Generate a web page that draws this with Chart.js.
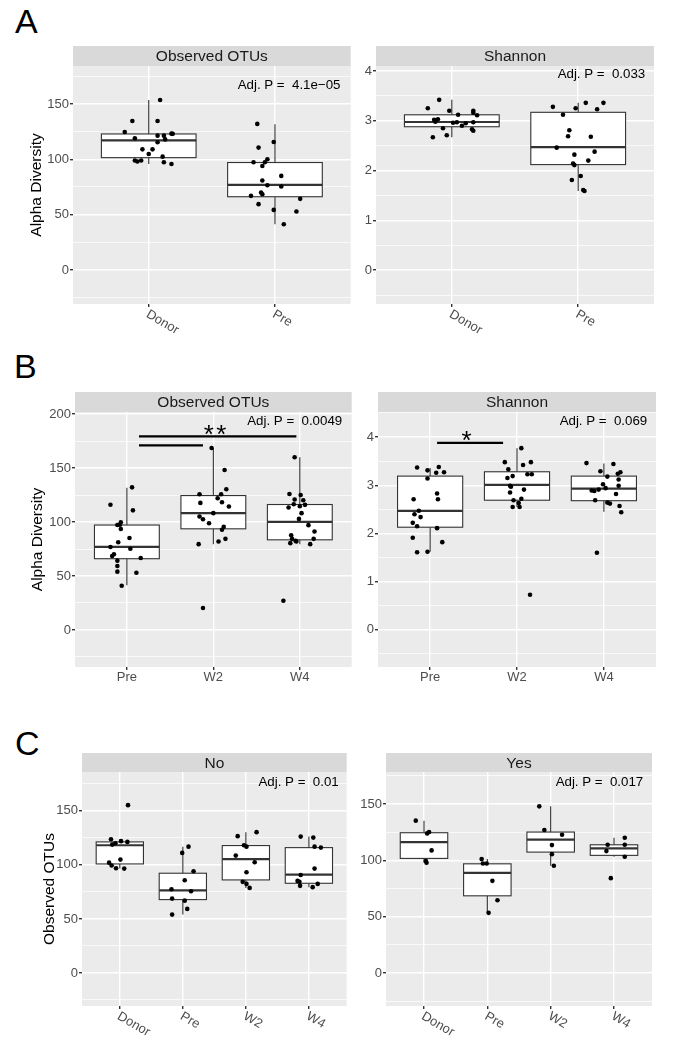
<!DOCTYPE html>
<html><head><meta charset="utf-8">
<script src="https://cdn.jsdelivr.net/npm/chart.js@4.4.0/dist/chart.umd.min.js"></script>
<style>
html,body{margin:0;padding:0;background:#fff;width:679px;height:1050px;overflow:hidden;font-family:"Liberation Sans",Arial,sans-serif;}
.letter{position:absolute;font-size:34px;color:#000;line-height:1;}
canvas{position:absolute;}
</style></head><body>
<div class="letter" style="left:15px;top:3.5px">A</div>
<div class="letter" style="left:14px;top:348.5px">B</div>
<div class="letter" style="left:15px;top:726px">C</div>
<script>
// ---------- Panel A : Donor vs Pre ----------
const A_cats = ['Donor', 'Pre'];
const A1_donor  = [153.6, 134.6, 134.6, 124.7, 123.2, 123.0, 119.0, 121.4, 121.4, 118.0, 115.4, 109.0, 109.0, 104.8, 102.4, 99.0, 98.0, 99.0, 97.3, 95.8];
const A1_donorX = [1.09, 0.87, 1.07, 0.81, 1.18, 1.19, 0.89, 1.07, 1.12, 1.13, 1.07, 0.95, 1.03, 1.00, 1.11, 0.89, 0.91, 0.94, 1.12, 1.18];
const A1_pre    = [132, 115.7, 110.6, 100.1, 97.4, 97.4, 94, 85, 80.8, 76.6, 75.4, 70, 68.5, 67, 64.3, 59.5, 54.3, 52.8, 41.4];
const A1_preX   = [1.86, 1.99, 1.87, 1.94, 1.92, 1.83, 1.90, 2.05, 1.90, 1.94, 2.05, 1.89, 1.90, 1.81, 2.20, 1.87, 1.99, 2.17, 2.07];
// box stats: [lower whisker, Q1, median, Q3, upper whisker]
const A1_stats  = [[95.8, 101.5, 117.2, 122.9, 153.6], [41.4, 66.2, 77.0, 97.1, 131.7]];

const A2_donor  = [3.42, 3.25, 3.20, 3.20, 3.16, 3.11, 3.12, 3.02, 3.03, 2.98, 2.97, 2.96, 2.95, 2.97, 2.90, 2.85, 2.83, 2.80, 2.71, 2.67];
const A2_donorX = [0.90, 0.81, 0.98, 1.17, 1.17, 1.20, 1.05, 0.86, 0.89, 0.87, 1.04, 1.01, 1.11, 1.17, 1.08, 0.93, 1.16, 1.17, 0.96, 0.85];
const A2_pre    = [3.28, 3.25, 3.36, 3.36, 3.23, 3.12, 2.81, 2.69, 2.68, 2.46, 2.38, 2.32, 2.20, 2.14, 2.11, 1.89, 1.81, 1.61, 1.59];
const A2_preX   = [1.80, 1.98, 2.06, 2.20, 2.15, 1.88, 1.93, 1.92, 2.10, 1.83, 2.13, 1.97, 2.08, 1.96, 1.97, 2.02, 1.95, 2.04, 2.05];
const A2_stats  = [[2.67, 2.88, 2.975, 3.12, 3.42], [1.59, 2.12, 2.47, 3.17, 3.36]];

// ---------- Panel B : Pre / W2 / W4 ----------
const B_cats = ['Pre', 'W2', 'W4'];
const B1_pre   = [132.1, 116, 110.8, 97.2, 99.7, 93.5, 85.2, 81.2, 76.8, 75.3, 70.1, 68.5, 66.7, 64.2, 59.3, 54, 53, 41, 97.4];
const B1_preX  = [1.06, 0.81, 1.07, 0.89, 0.93, 0.93, 1.03, 0.90, 0.81, 1.04, 0.85, 0.83, 1.16, 0.89, 0.89, 0.89, 1.11, 0.94, 0.92];
const B1_w2    = [168.6, 148.2, 130.4, 125.7, 125.7, 122, 118.3, 117.7, 114.3, 105.1, 102.6, 108.2, 98.9, 95.5, 92.8, 79.5, 82, 84.4, 20.3];
const B1_w2X   = [1.98, 2.13, 2.15, 1.84, 2.09, 2.05, 2.10, 1.85, 2.18, 1.84, 1.88, 2.00, 1.95, 2.12, 2.10, 1.83, 2.06, 2.14, 1.88];
const B1_w4    = [160, 126, 125, 120.8, 120.2, 116.5, 115.9, 114.6, 113.4, 108.2, 102.9, 97.1, 87.8, 91.2, 84.4, 84.4, 82.6, 82, 80.4, 79.5, 27.1];
const B1_w4X   = [2.94, 2.88, 3.01, 2.94, 3.04, 2.93, 3.06, 3.00, 2.87, 3.02, 2.99, 3.10, 2.90, 3.17, 2.91, 3.16, 2.95, 2.96, 2.89, 3.12, 2.81];
const B1_stats = [[41.4, 66, 77, 97.2, 131.7], [79.5, 93.7, 108.2, 124.5, 168.6], [79.5, 83.5, 100.2, 116.2, 160]];
const B1_sigX0 = [1.14, 1.14];
const B1_sigX1 = [2.96, 1.88];
const B1_sigY  = [179.4, 171.0];
const B1_star  = ['**', 2.02, 186.8];

const B2_pre   = [3.37, 3.31, 3.38, 3.26, 3.27, 3.14, 2.83, 2.71, 2.71, 2.47, 2.40, 2.34, 2.22, 2.15, 2.11, 1.91, 1.82, 1.61, 1.62];
const B2_preX  = [0.85, 0.97, 1.10, 1.07, 1.16, 0.97, 1.08, 1.09, 0.81, 0.87, 0.82, 0.89, 0.80, 0.85, 1.08, 0.80, 1.14, 0.85, 0.97];
const B2_w2    = [3.77, 3.48, 3.48, 3.33, 3.42, 3.19, 3.15, 3.23, 3.23, 2.99, 2.97, 2.91, 2.85, 2.72, 2.69, 2.63, 2.55, 2.55, 0.73];
const B2_w2X   = [2.05, 1.86, 2.16, 1.90, 2.07, 1.95, 1.89, 2.12, 2.17, 1.92, 1.93, 2.08, 1.92, 2.05, 1.96, 2.02, 1.95, 2.03, 2.15];
const B2_w4    = [3.46, 3.44, 3.29, 3.27, 3.24, 3.18, 3.12, 3.02, 2.94, 2.89, 2.88, 2.91, 2.99, 2.82, 2.69, 2.64, 2.62, 2.57, 2.44, 1.60];
const B2_w4X   = [2.80, 3.11, 2.96, 3.19, 3.16, 3.04, 3.17, 2.99, 3.02, 2.86, 2.89, 2.94, 3.17, 3.14, 2.90, 3.04, 3.07, 3.18, 3.20, 2.92];
const B2_stats = [[1.62, 2.13, 2.47, 3.19, 3.36], [2.55, 2.69, 3.01, 3.28, 3.77], [2.45, 2.68, 2.93, 3.19, 3.45]];
const B2_sigX0 = [1.08];
const B2_sigX1 = [1.84];
const B2_sigY  = [3.88];
const B2_star  = ['*', 1.42, 4.05];

// ---------- Panel C : No / Yes ----------
const C_cats = ['Donor', 'Pre', 'W2', 'W4'];
const C1_donor  = [155.3, 123.8, 120.1, 118.8, 122, 121.3, 104.9, 102.1, 99.4, 96.9, 96.6];
const C1_donorX = [1.13, 0.86, 0.93, 0.88, 1.02, 1.12, 1.01, 0.83, 0.87, 0.94, 1.07];
const C1_pre    = [116.9, 111.1, 94.1, 85.8, 77.5, 75.6, 68.8, 66.9, 59.3, 54];
const C1_preX   = [2.09, 1.99, 2.17, 2.03, 1.82, 2.13, 1.83, 2.03, 2.07, 1.83];
const C1_w2     = [126.6, 130.3, 118.2, 116.9, 108.6, 102.5, 93.2, 84.3, 82.4, 78.7];
const C1_w2X    = [2.87, 3.17, 2.97, 3.01, 2.84, 3.14, 3.01, 2.95, 3.01, 3.06];
const C1_w4     = [126.2, 125.3, 116.9, 116, 96.6, 90.7, 85.2, 84.3, 80.6, 79.4, 82.4];
const C1_w4X    = [3.87, 4.07, 4.09, 4.19, 4.09, 3.87, 3.82, 3.85, 3.86, 4.06, 4.14];
const C1_stats  = [[96.6, 100.9, 118.2, 121.3, 123.8], [54, 67.9, 76.5, 92.3, 116.9], [78.7, 86.1, 105.3, 117.9, 130.3], [79.4, 83, 91, 116, 126.2]];

const C2_donor  = [135.2, 123.9, 125.1, 108.8, 99.3, 97.8];
const C2_donorX = [0.87, 1.05, 1.08, 1.12, 1.03, 1.04];
const C2_pre    = [101.1, 97.2, 97.2, 81.8, 64.6, 53.4];
const C2_preX   = [1.91, 1.93, 1.99, 2.08, 2.16, 2.02];
const C2_w2     = [147.9, 126.9, 122.7, 113.5, 105.5, 95.2];
const C2_w2X    = [2.82, 2.90, 3.18, 3.02, 3.02, 3.05];
const C2_w4     = [120.1, 113.8, 113.8, 108.2, 103.2, 84.2];
const C2_w4X    = [4.17, 3.90, 4.17, 3.88, 4.17, 3.95];
const C2_stats  = [[97.8, 101.7, 116.2, 124.5, 135.2], [53.4, 68.5, 88.9, 96.9, 101.1], [95.2, 107.3, 118.3, 125.1, 147.9], [103.2, 104.4, 110.6, 113.8, 120.1]];

// ---------- axis ticks ----------
const otuTicks    = [-25, 0, 25, 50, 75, 100, 125, 150, 175];
const otuMajor    = [0, 50, 100, 150];
const otuTicksB   = [-25, 0, 25, 50, 75, 100, 125, 150, 175, 200];
const otuMajorB   = [0, 50, 100, 150, 200];
const shanTicks   = [-0.5, 0, 0.5, 1, 1.5, 2, 2.5, 3, 3.5, 4];
const shanTicksB  = [-0.5, 0, 0.5, 1, 1.5, 2, 2.5, 3, 3.5, 4, 4.5];
const shanMajor   = [0, 1, 2, 3, 4];

const FONT = '"Liberation Sans", Arial, Helvetica, sans-serif';
Chart.defaults.font.family = FONT;

function makePanel(p) {
  const cv = document.createElement('canvas');
  const W = p.canvasRight - p.canvasLeft, H = p.canvasBottom - p.stripTop;
  cv.width = W; cv.height = H;
  cv.style.left = p.canvasLeft + 'px'; cv.style.top = p.stripTop + 'px';
  cv.style.width = W + 'px'; cv.style.height = H + 'px';
  document.body.appendChild(cv);
  const isMajor = v => p.yMajor.some(m => Math.abs(m - v) < 1e-9);
  const datasets = p.groups.map(g => ({
    type: 'scatter',
    data: g[0].map((y, i) => ({x: g[1][i], y: y})),
    pointRadius: 2.3, pointHoverRadius: 2.3,
    pointBackgroundColor: '#000', pointBorderWidth: 0, showLine: false
  }));
  const plugin = {
    id: 'panel' + p.id,
    beforeDraw(chart) {
      const {ctx, chartArea: a} = chart;
      ctx.save();
      ctx.fillStyle = '#EBEBEB';
      ctx.fillRect(a.left, a.top, a.right - a.left, a.bottom - a.top);
      ctx.fillStyle = '#D9D9D9';
      ctx.fillRect(a.left, 0, a.right - a.left, a.top);
      ctx.fillStyle = '#1A1A1A';
      ctx.font = '15.5px ' + FONT;
      ctx.textAlign = 'center'; ctx.textBaseline = 'middle';
      ctx.fillText(p.strip, (a.left + a.right) / 2, a.top / 2 + 1);
      ctx.restore();
    },
    beforeDatasetsDraw(chart) {
      const {ctx} = chart;
      const xs = chart.scales.x, ys = chart.scales.y;
      ctx.save();
      p.stats.forEach((s, i) => {
        const c = i + 1;
        const x0 = xs.getPixelForValue(c - 0.375), x1 = xs.getPixelForValue(c + 0.375);
        const xc = xs.getPixelForValue(c);
        const yLo = ys.getPixelForValue(s[0]), yQ1 = ys.getPixelForValue(s[1]);
        const yMed = ys.getPixelForValue(s[2]), yQ3 = ys.getPixelForValue(s[3]);
        const yHi = ys.getPixelForValue(s[4]);
        ctx.strokeStyle = '#333333';
        ctx.lineWidth = 1.1;
        ctx.beginPath();
        ctx.moveTo(xc, yQ3); ctx.lineTo(xc, yHi);
        ctx.moveTo(xc, yQ1); ctx.lineTo(xc, yLo);
        ctx.stroke();
        ctx.fillStyle = '#FFFFFF';
        ctx.fillRect(x0, yQ3, x1 - x0, yQ1 - yQ3);
        ctx.strokeRect(x0, yQ3, x1 - x0, yQ1 - yQ3);
        ctx.lineWidth = 2.2;
        ctx.beginPath();
        ctx.moveTo(x0, yMed); ctx.lineTo(x1, yMed);
        ctx.stroke();
      });
      ctx.restore();
    },
    afterDatasetsDraw(chart) {
      const {ctx, chartArea: a} = chart;
      const xs = chart.scales.x, ys = chart.scales.y;
      ctx.save();
      ctx.fillStyle = '#000';
      ctx.font = '13.3px ' + FONT;
      ctx.textAlign = 'right'; ctx.textBaseline = 'middle';
      const tw = ctx.measureText(p.pText).width;
      ctx.fillText(p.pText, a.right - 0.1 * tw, ys.getPixelForValue(p.pY));
      if (p.sigY) {
        ctx.strokeStyle = '#000'; ctx.lineWidth = 2.3;
        p.sigY.forEach((y, i) => {
          ctx.beginPath();
          ctx.moveTo(xs.getPixelForValue(p.sigX0[i]), ys.getPixelForValue(y));
          ctx.lineTo(xs.getPixelForValue(p.sigX1[i]), ys.getPixelForValue(y));
          ctx.stroke();
        });
        const fs = 26;
        ctx.font = fs + 'px ' + FONT;
        ctx.textAlign = 'left'; ctx.textBaseline = 'alphabetic';
        const chars = p.star[0].split('');
        const cw = ctx.measureText('*').width, gap = 2.5;
        const total = chars.length * cw + (chars.length - 1) * gap;
        let sx = xs.getPixelForValue(p.star[1]) - total / 2;
        const sy = ys.getPixelForValue(p.star[2]) + 0.57 * fs;
        chars.forEach(ch => { ctx.fillText(ch, sx, sy); sx += cw + gap; });
      }
      ctx.restore();
    },
    afterDraw(chart) {
      if (!p.rotate) return;
      const {ctx, chartArea: a} = chart;
      const xs = chart.scales.x;
      ctx.save();
      ctx.fillStyle = '#4D4D4D';
      ctx.font = '13px ' + FONT;
      ctx.textAlign = 'left'; ctx.textBaseline = 'middle';
      p.cats.forEach((c, i) => {
        ctx.save();
        ctx.translate(xs.getPixelForValue(i + 1) - 1.5, a.bottom + 9.5);
        ctx.rotate(Math.PI / 6);
        ctx.fillText(c, 0, 0);
        ctx.restore();
      });
      ctx.restore();
    }
  };
  const n = p.cats.length;
  new Chart(cv, {
    type: 'scatter',
    data: {datasets},
    plugins: [plugin],
    options: {
      responsive: false, animation: false, devicePixelRatio: 1, events: [],
      layout: {padding: {top: p.plotTop - p.stripTop, right: p.canvasRight - p.plotRight, left: 0, bottom: 0}},
      plugins: {legend: {display: false}, tooltip: {enabled: false}, title: {display: false}},
      scales: {
        x: {
          type: 'linear', min: 0.4, max: n + 0.6, bounds: 'data',
          afterBuildTicks: s => { s.ticks = p.cats.map((c, i) => ({value: i + 1})); },
          afterFit: s => { s.height = p.canvasBottom - p.plotBottom; },
          border: {display: false},
          grid: {color: '#FFFFFF', lineWidth: 1.4, tickColor: '#333333', tickLength: 3, drawTicks: true},
          ticks: {
            display: !p.rotate, autoSkip: false, maxRotation: 0, minRotation: 0, padding: 0,
            color: '#4D4D4D', font: {size: 13},
            callback: v => p.cats[Math.round(v) - 1]
          }
        },
        y: {
          type: 'linear', min: p.yMin, max: p.yMax, bounds: 'data',
          afterBuildTicks: s => { s.ticks = p.yTicks.map(v => ({value: v})); },
          afterFit: s => { s.width = p.plotLeft - p.canvasLeft; },
          border: {display: false},
          grid: {
            color: '#FFFFFF',
            lineWidth: c => (c.tick && isMajor(c.tick.value)) ? 1.4 : 0.7,
            tickColor: c => (c.tick && isMajor(c.tick.value)) ? '#333333' : 'rgba(0,0,0,0)',
            tickLength: 3
          },
          ticks: {
            autoSkip: false, padding: 1, color: '#4D4D4D', font: {size: 13},
            callback: v => isMajor(v) ? String(v) : ''
          },
          title: p.yTitle ? {display: true, text: p.yTitle, color: '#000', font: {size: 15.5}, padding: {top: p.titlePad, bottom: 0}} : {display: false}
        }
      }
    }
  });
}

makePanel({id: 'A1', cats: A_cats, groups: [[A1_donor, A1_donorX], [A1_pre, A1_preX]], stats: A1_stats,
  stripTop: 46, plotTop: 66, plotLeft: 73, plotRight: 352, plotBottom: 304,
  canvasLeft: 20, canvasRight: 353, canvasBottom: 350,
  yMin: -30.7, yMax: 184.3, yTicks: otuTicks, yMajor: otuMajor,
  strip: 'Observed OTUs', pText: 'Adj. P =  4.1e\u221205', pY: 167,
  yTitle: 'Alpha Diversity', titlePad: 7.7, rotate: true});

makePanel({id: 'A2', cats: A_cats, groups: [[A2_donor, A2_donorX], [A2_pre, A2_preX]], stats: A2_stats,
  stripTop: 46, plotTop: 66, plotLeft: 376, plotRight: 654, plotBottom: 304,
  canvasLeft: 352, canvasRight: 660, canvasBottom: 350,
  yMin: -0.68, yMax: 4.1, yTicks: shanTicks, yMajor: shanMajor,
  strip: 'Shannon', pText: 'Adj. P =  0.033', pY: 3.93, rotate: true});

makePanel({id: 'B1', cats: B_cats, groups: [[B1_pre, B1_preX], [B1_w2, B1_w2X], [B1_w4, B1_w4X]], stats: B1_stats,
  stripTop: 392, plotTop: 412, plotLeft: 75, plotRight: 353, plotBottom: 667,
  canvasLeft: 20, canvasRight: 354, canvasBottom: 690,
  yMin: -34.3, yMax: 201.9, yTicks: otuTicksB, yMajor: otuMajorB,
  strip: 'Observed OTUs', pText: 'Adj. P =  0.0049', pY: 192.9,
  sigX0: B1_sigX0, sigX1: B1_sigX1, sigY: B1_sigY, star: B1_star,
  yTitle: 'Alpha Diversity', titlePad: 8.2, rotate: false});

makePanel({id: 'B2', cats: B_cats, groups: [[B2_pre, B2_preX], [B2_w2, B2_w2X], [B2_w4, B2_w4X]], stats: B2_stats,
  stripTop: 392, plotTop: 412, plotLeft: 378, plotRight: 656, plotBottom: 667,
  canvasLeft: 354, canvasRight: 662, canvasBottom: 690,
  yMin: -0.77, yMax: 4.52, yTicks: shanTicksB, yMajor: shanMajor,
  strip: 'Shannon', pText: 'Adj. P =  0.069', pY: 4.33,
  sigX0: B2_sigX0, sigX1: B2_sigX1, sigY: B2_sigY, star: B2_star, rotate: false});

makePanel({id: 'C1', cats: C_cats, groups: [[C1_donor, C1_donorX], [C1_pre, C1_preX], [C1_w2, C1_w2X], [C1_w4, C1_w4X]], stats: C1_stats,
  stripTop: 753, plotTop: 772, plotLeft: 82, plotRight: 348, plotBottom: 1006,
  canvasLeft: 20, canvasRight: 349, canvasBottom: 1050,
  yMin: -30.6, yMax: 186, yTicks: otuTicks, yMajor: otuMajor,
  strip: 'No', pText: 'Adj. P =  0.01', pY: 176.4,
  yTitle: 'Observed OTUs', titlePad: 20.2, rotate: true});

makePanel({id: 'C2', cats: C_cats, groups: [[C2_donor, C2_donorX], [C2_pre, C2_preX], [C2_w2, C2_w2X], [C2_w4, C2_w4X]], stats: C2_stats,
  stripTop: 753, plotTop: 772, plotLeft: 386, plotRight: 652, plotBottom: 1006,
  canvasLeft: 360, canvasRight: 660, canvasBottom: 1050,
  yMin: -29.3, yMax: 178.4, yTicks: otuTicks, yMajor: otuMajor,
  strip: 'Yes', pText: 'Adj. P =  0.017', pY: 169, rotate: true});
</script>
</body></html>
